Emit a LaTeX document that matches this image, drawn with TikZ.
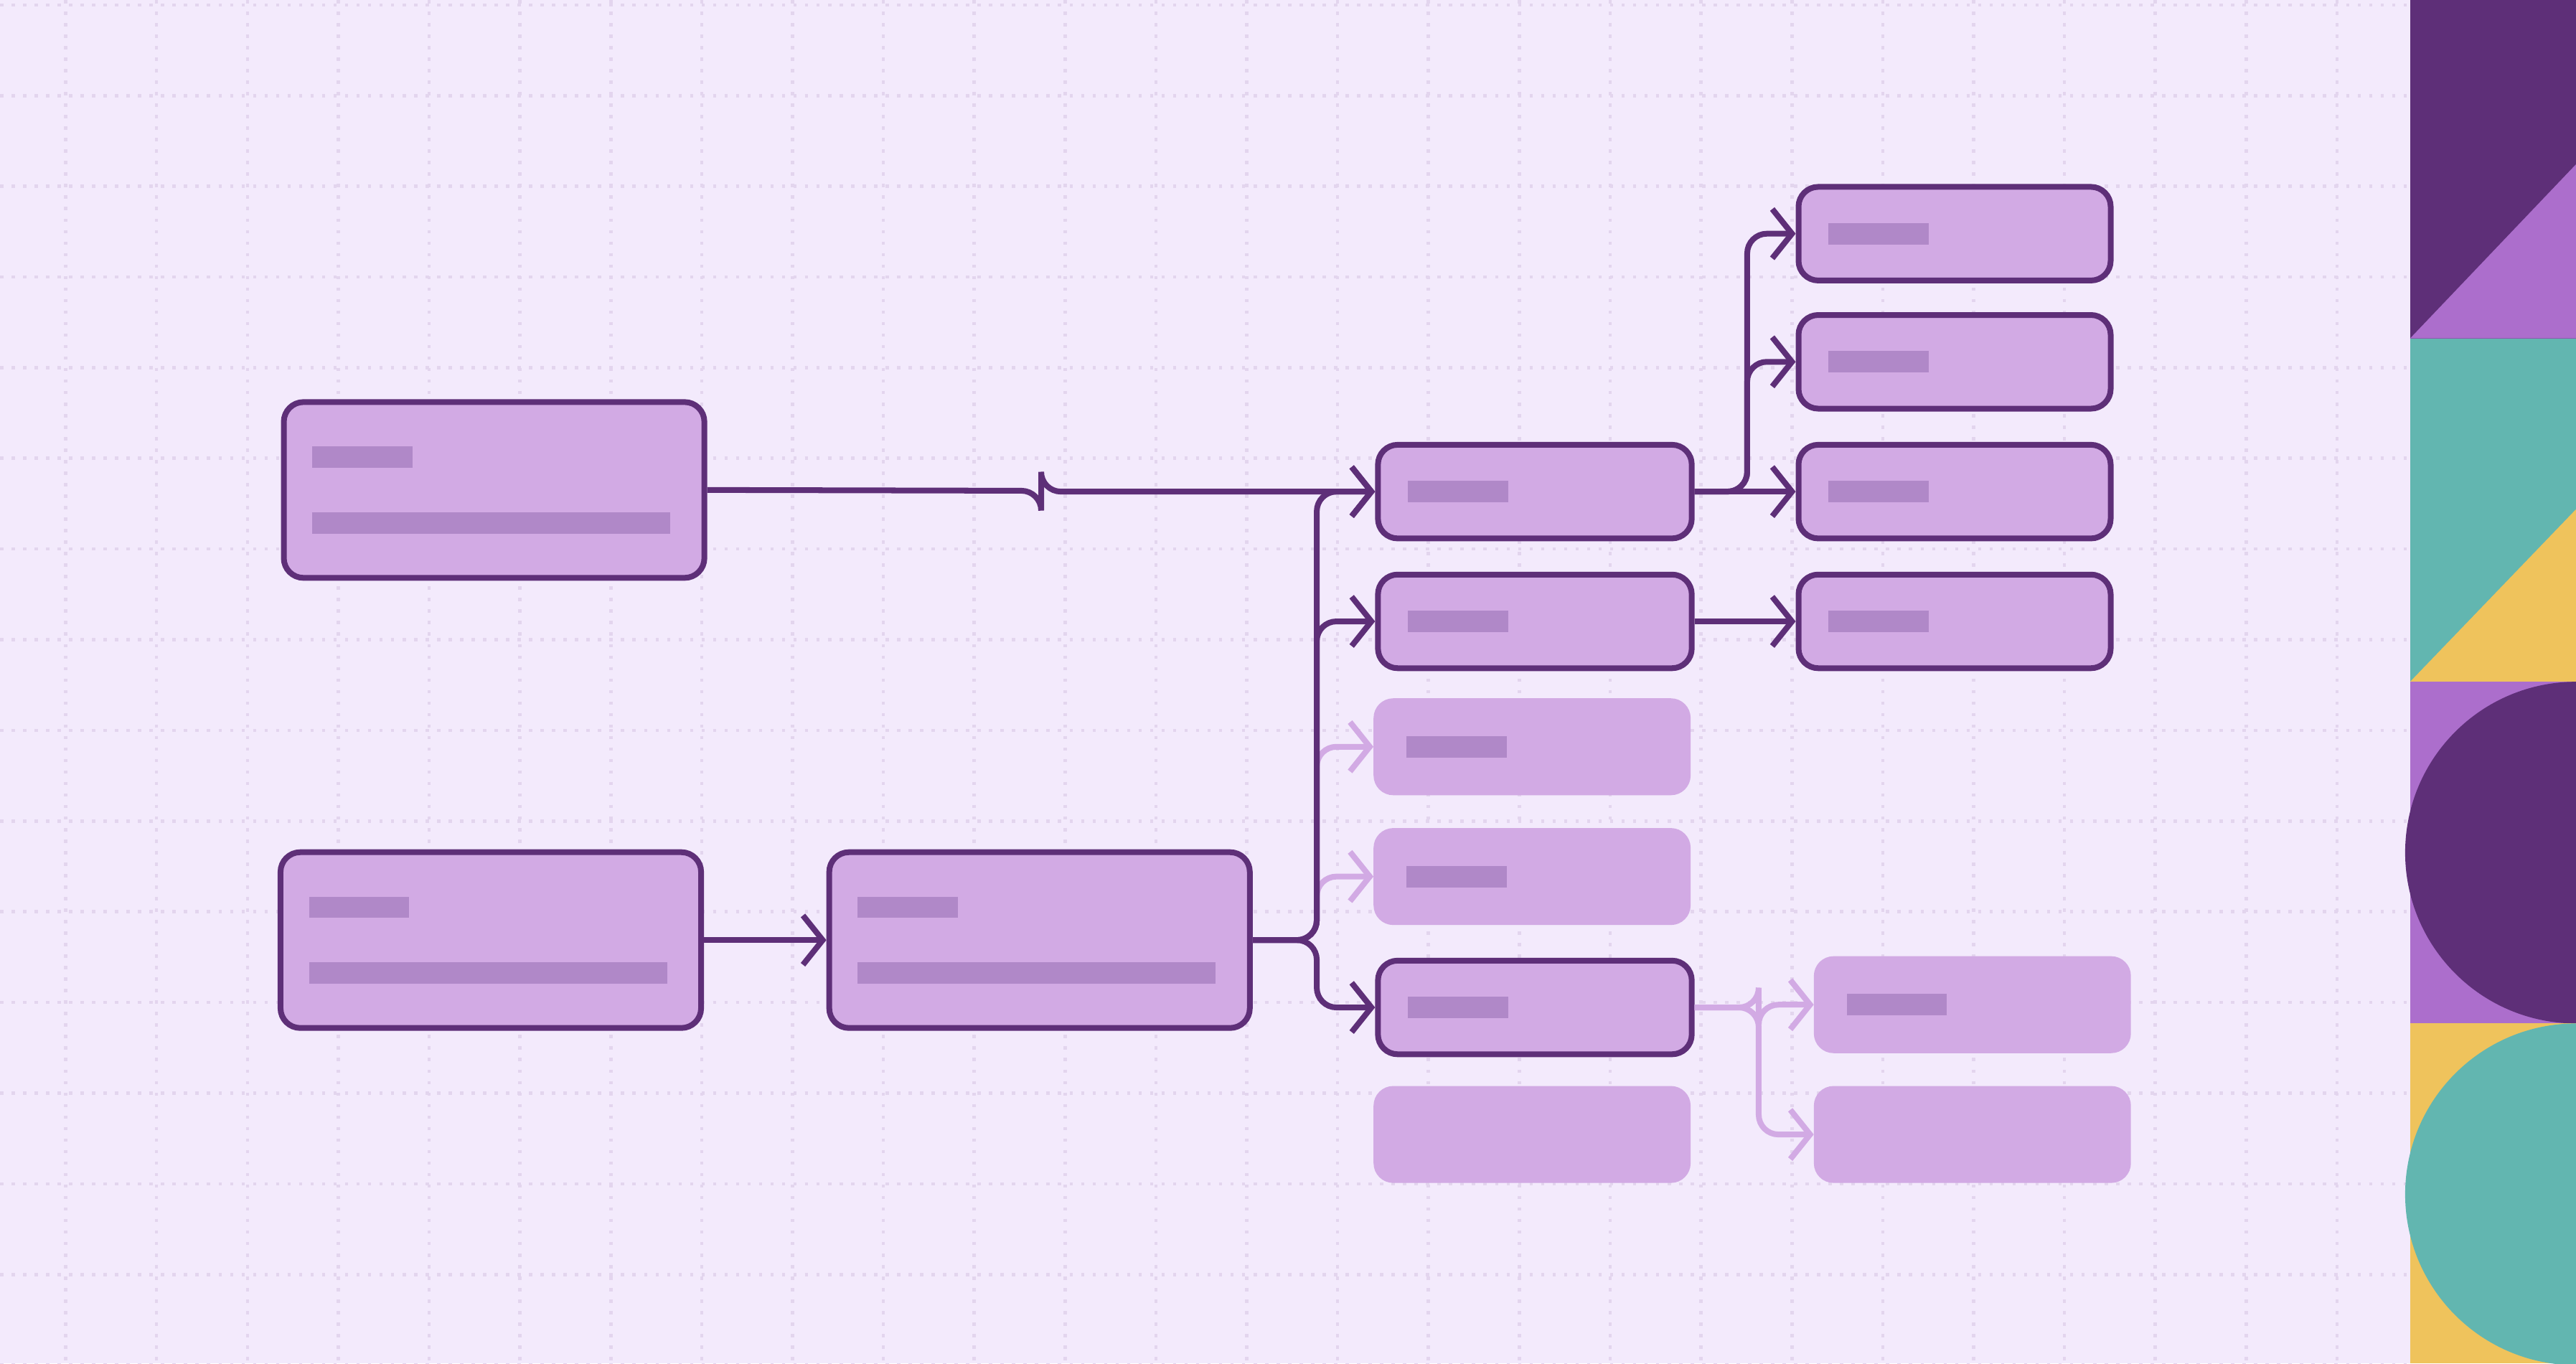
\documentclass[tikz,border=0pt]{standalone}
\usetikzlibrary{arrows.meta,calc}
\definecolor{bg}{HTML}{F3EAFC}
\definecolor{gridc}{HTML}{E3D5EE}
\definecolor{nfill}{HTML}{D2AAE4}
\definecolor{ndraw}{HTML}{5E2F78}
\definecolor{bar}{HTML}{B088C8}
\definecolor{lpur}{HTML}{AC6ECC}
\definecolor{teal}{HTML}{62B6B0}
\definecolor{yel}{HTML}{EFC35C}
\tikzset{
 box/.style={draw=ndraw,line width=3.5mm,fill=nfill,rounded corners=12mm,anchor=north west,inner sep=0},
 fbox/.style={fill=nfill,rounded corners=12mm,anchor=north west,inner sep=0},
 barn/.style={fill=bar,inner sep=0,minimum height=13mm,anchor=west},
 edge/.style={draw=ndraw,line width=3.5mm,rounded corners=12mm,-{Straight Barb[length=12mm,width=30mm,line width=3.5mm]}},
 fedge/.style={edge,draw=nfill},
}
\begin{document}
\begin{tikzpicture}[x=1mm,y=-1mm]
\useasboundingbox (0,0) rectangle (1568,830);
\fill[bg] (0,0) rectangle (1568,830);
\foreach \i in {0,...,26} \draw[gridc,line width=2mm,dash pattern=on 2mm off 5mm] ({40+55.3*\i},0) -- ({40+55.3*\i},830);
\foreach \j in {0,...,15} \draw[gridc,line width=2mm,dash pattern=on 2mm off 5mm] (0,{3+55.2*\j}) -- (1467,{3+55.2*\j});
% right strip
\fill[ndraw] (1467,0) rectangle (1568,206);
\fill[lpur] (1467,206) -- (1568,100) -- (1568,206) -- cycle;
\fill[teal] (1467,206) rectangle (1568,415);
\fill[yel] (1467,415) -- (1568,310) -- (1568,415) -- cycle;
\fill[lpur] (1467,415) rectangle (1568,623);
\fill[ndraw] (1568,415) arc (270:90:104) -- cycle;
\fill[yel] (1467,623) rectangle (1568,830);
\fill[teal] (1568,623) arc (270:90:104) -- cycle;
% big nodes
\node[box,minimum width=256mm,minimum height=107mm] (A) at (171,243) {};
\node[box,minimum width=256mm,minimum height=107mm] (B) at (169,517) {};
\node[box,minimum width=256mm,minimum height=107mm] (C) at (503,517) {};
\foreach \n in {A,B,C}{
 \node[barn,minimum width=61mm] at ($(\n.west)+(19,-20)$) {};
 \node[barn,minimum width=218mm] at ($(\n.west)+(19,20)$) {};
}
% middle column
\node[box,minimum width=191mm,minimum height=57mm] (n1) at (837,269) {};
\node[box,minimum width=191mm,minimum height=57mm] (n2) at (837,348) {};
\node[fbox,minimum width=193mm,minimum height=59mm] (n3) at (836,425) {};
\node[fbox,minimum width=193mm,minimum height=59mm] (n4) at (836,504) {};
\node[box,minimum width=191mm,minimum height=57mm] (n5) at (837,583) {};
\node[fbox,minimum width=193mm,minimum height=59mm] (n6) at (836,661) {};
% right column
\node[box,minimum width=190mm,minimum height=57mm] (r1) at (1093,112) {};
\node[box,minimum width=190mm,minimum height=57mm] (r2) at (1093,190) {};
\node[box,minimum width=190mm,minimum height=57mm] (r3) at (1093,269) {};
\node[box,minimum width=190mm,minimum height=57mm] (r4) at (1093,348) {};
\node[fbox,minimum width=193mm,minimum height=59mm] (r5) at (1104,582) {};
\node[fbox,minimum width=193mm,minimum height=59mm] (r6) at (1104,661) {};
\foreach \n in {n1,n2,n3,n4,n5,r1,r2,r3,r4,r5}
 \node[barn,minimum width=61mm] at ($(\n.west)+(20,0)$) {};
% edges
\coordinate (j1) at ($(C.east)+(39,0)$);
\coordinate (j2) at ($(n1.east)+(32,0)$);
\coordinate (j3) at ($(n5.east)+(39,0)$);
\draw[edge] (B.east) -- (C.west);
\draw[edge] (A.east) -- ($(A.east)!0.5!(n1.west)$) |- (n1.west);
\draw[fedge] (C.east) -- (j1) |- (n3.west);
\draw[fedge] (C.east) -- (j1) |- (n4.west);
\draw[edge] (C.east) -- (j1) |- (n1.west);
\draw[edge] (C.east) -- (j1) |- (n2.west);
\draw[edge] (C.east) -- (j1) |- (n5.west);
\draw[edge] (n1.east) -- (j2) |- (r1.west);
\draw[edge] (n1.east) -- (j2) |- (r2.west);
\draw[edge] (n1.east) -- (r3.west);
\draw[edge] (n2.east) -- (r4.west);
\draw[fedge] (n5.east) -- (j3) |- (r5.west);
\draw[fedge] (n5.east) -- (j3) |- (r6.west);
\end{tikzpicture}
\end{document}
